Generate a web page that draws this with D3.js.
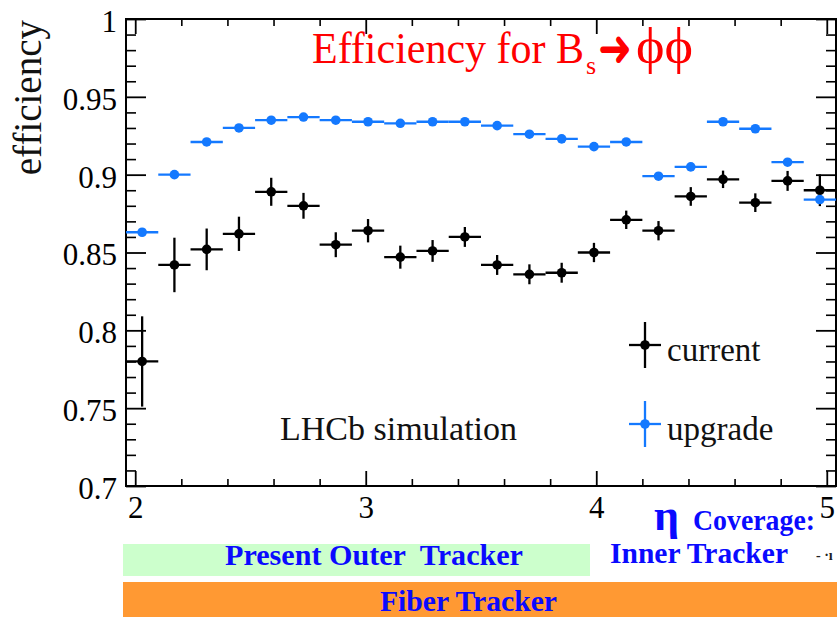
<!DOCTYPE html>
<html>
<head>
<meta charset="utf-8">
<script src="https://cdn.jsdelivr.net/npm/d3@7"></script>
<style>
  html, body { margin: 0; padding: 0; background: #fff; }
  svg { display: block; }
  text { white-space: pre; }
</style>
</head>
<body>
<svg id="chart" width="837" height="617"></svg>
<script>
// Pseudorapidity bin centres (bins 0.14 wide, 1.96 to 5.04)
const etaBins = [2.03, 2.17, 2.31, 2.45, 2.59, 2.73, 2.87, 3.01, 3.15, 3.29, 3.43,
                 3.57, 3.71, 3.85, 3.99, 4.13, 4.27, 4.41, 4.55, 4.69, 4.83, 4.97];
const binHalfWidth = 0.07;

// Efficiency with the current detector
const currentEff = [0.780, 0.842, 0.852, 0.862, 0.889, 0.880, 0.855, 0.864, 0.847, 0.851, 0.860,
                    0.842, 0.836, 0.837, 0.850, 0.871, 0.864, 0.886, 0.897, 0.882, 0.896, 0.890];
const currentErr = [0.029, 0.0175, 0.0134, 0.011, 0.009, 0.0083, 0.008, 0.0075, 0.0074, 0.007, 0.0064,
                    0.0064, 0.0064, 0.0064, 0.0062, 0.0059, 0.0062, 0.006, 0.0056, 0.006, 0.0064, 0.0102];

// Efficiency with the upgraded detector
const upgradeEff = [0.863, 0.900, 0.921, 0.930, 0.935, 0.937, 0.935, 0.934, 0.933, 0.934, 0.934,
                    0.9315, 0.926, 0.923, 0.918, 0.921, 0.899, 0.905, 0.934, 0.9295, 0.908, 0.884];
const upgradeErr = [0.002, 0.002, 0.002, 0.002, 0.002, 0.002, 0.002, 0.002, 0.002, 0.002, 0.002,
                    0.002, 0.002, 0.002, 0.002, 0.002, 0.002, 0.002, 0.002, 0.002, 0.002, 0.002];

const xMajorTicks = [2, 3, 4, 5];
const yMajorTicks = [0.7, 0.75, 0.8, 0.85, 0.9, 0.95, 1];
const yTickLabels = ["0.7", "0.75", "0.8", "0.85", "0.9", "0.95", "1"];
const seriesNames = ["current", "upgrade"];
const seriesColors = ["#000000", "#1479ff"];

const ROOT_FONT = "'Liberation Serif', 'Times New Roman', serif";
const L = 126, R = 836, T = 19, B = 486;

const svg = d3.select("#chart");
svg.append("rect").attr("width", 837).attr("height", 617).attr("fill", "#fff");

const x = d3.scaleLinear().domain([1.96, 5.04]).range([L, R]);
const y = d3.scaleLinear().domain([0.7, 1.0]).range([B, T]);

const xMinor = d3.range(10, 26).filter(i => i % 5 !== 0).map(i => i / 5);
const yMinor = d3.range(70, 101).filter(i => i % 5 !== 0).map(i => i / 100);

function styleAxis(g, width) {
  g.select(".domain").remove();
  g.selectAll(".tick line").attr("stroke", "#000").attr("stroke-width", width);
  g.selectAll(".tick text").attr("fill", "#000")
    .style("font-family", ROOT_FONT).style("font-size", "31px");
}

// Ticks on all four sides, pointing inwards
svg.append("g").attr("transform", `translate(0,${B})`)
  .call(d3.axisBottom(x).tickValues(xMajorTicks).tickSize(-15).tickPadding(10).tickFormat(d3.format("d")))
  .call(g => styleAxis(g, 1.8));
svg.append("g").attr("transform", `translate(0,${B})`)
  .call(d3.axisBottom(x).tickValues(xMinor).tickSize(-7).tickFormat(""))
  .call(g => styleAxis(g, 1.6));
svg.append("g").attr("transform", `translate(0,${T})`)
  .call(d3.axisTop(x).tickValues(xMajorTicks).tickSize(-15).tickFormat(""))
  .call(g => styleAxis(g, 1.8));
svg.append("g").attr("transform", `translate(0,${T})`)
  .call(d3.axisTop(x).tickValues(xMinor).tickSize(-7).tickFormat(""))
  .call(g => styleAxis(g, 1.6));

svg.append("g").attr("transform", `translate(${L},0)`)
  .call(d3.axisLeft(y).tickValues(yMajorTicks).tickSize(-20).tickPadding(9)
    .tickFormat((d, i) => yTickLabels[i]))
  .call(g => styleAxis(g, 1.8))
  .call(g => g.selectAll(".tick text").attr("dy", "0.4em"));
svg.append("g").attr("transform", `translate(${L},0)`)
  .call(d3.axisLeft(y).tickValues(yMinor).tickSize(-10).tickFormat(""))
  .call(g => styleAxis(g, 1.6));
svg.append("g").attr("transform", `translate(${R},0)`)
  .call(d3.axisRight(y).tickValues(yMajorTicks).tickSize(-20).tickFormat(""))
  .call(g => styleAxis(g, 1.8));
svg.append("g").attr("transform", `translate(${R},0)`)
  .call(d3.axisRight(y).tickValues(yMinor).tickSize(-10).tickFormat(""))
  .call(g => styleAxis(g, 1.6));

// Frame
svg.append("rect").attr("x", L).attr("y", T).attr("width", R - L).attr("height", B - T)
  .attr("fill", "none").attr("stroke", "#000").attr("stroke-width", 2);

// Data points with error bars
const series = [
  { name: seriesNames[0], color: seriesColors[0], eff: currentEff, err: currentErr },
  { name: seriesNames[1], color: seriesColors[1], eff: upgradeEff, err: upgradeErr }
];

series.forEach(s => {
  const pts = etaBins.map((eta, i) => ({ eta, v: s.eff[i], e: s.err[i] }));
  const g = svg.append("g").attr("class", "series-" + s.name);
  g.selectAll("line.h").data(pts).join("line").attr("class", "h")
    .attr("x1", d => x(d.eta - binHalfWidth)).attr("x2", d => x(d.eta + binHalfWidth))
    .attr("y1", d => y(d.v)).attr("y2", d => y(d.v))
    .attr("stroke", s.color).attr("stroke-width", 2.3);
  g.selectAll("line.v").data(pts).join("line").attr("class", "v")
    .attr("x1", d => x(d.eta)).attr("x2", d => x(d.eta))
    .attr("y1", d => y(d.v - d.e)).attr("y2", d => y(d.v + d.e))
    .attr("stroke", s.color).attr("stroke-width", 2.3);
  g.selectAll("circle").data(pts).join("circle")
    .attr("cx", d => x(d.eta)).attr("cy", d => y(d.v)).attr("r", 4.8)
    .attr("fill", s.color);
});

// Legend
const legendX = 645, legendRows = [345, 424];
series.forEach((s, i) => {
  const g = svg.append("g").attr("transform", `translate(${legendX},${legendRows[i]})`);
  g.append("line").attr("x1", -16).attr("x2", 16).attr("stroke", s.color).attr("stroke-width", 2.3);
  g.append("line").attr("y1", -23).attr("y2", 23).attr("stroke", s.color).attr("stroke-width", 2.3);
  g.append("circle").attr("r", 4.8).attr("fill", s.color);
  g.append("text").attr("x", 22).attr("y", 16)
    .style("font-family", ROOT_FONT).style("font-size", "33px").attr("fill", "#111")
    .text(s.name);
});

svg.append("text").attr("x", 280).attr("y", 440)
  .style("font-family", ROOT_FONT).style("font-size", "34px").attr("fill", "#111")
  .text("LHCb simulation");

// Axis title
svg.append("text").attr("transform", "translate(41,20) rotate(-90)")
  .attr("text-anchor", "end")
  .style("font-family", ROOT_FONT).style("font-size", "39px").attr("fill", "#111")
  .text("efficiency");

// Title: one text element, pieces as tspans
const title = svg.append("text").attr("x", 312).attr("y", 63)
  .style("font-family", ROOT_FONT).style("font-size", "44px").attr("fill", "#ff0000");
title.append("tspan").attr("textLength", 272).attr("lengthAdjust", "spacingAndGlyphs")
  .text("Efficiency for B");
title.append("tspan").attr("x", 586).attr("y", 74).style("font-size", "26px").text("s");
title.append("tspan").attr("x", 598).attr("y", 66)
  .style("font-family", "'DejaVu Sans', sans-serif").style("font-weight", "bold").style("font-size", "52px")
  .attr("textLength", 34).attr("lengthAdjust", "spacingAndGlyphs").text("➜");
title.append("tspan").attr("x", 636).attr("y", 63).style("font-size", "50px")
  .attr("textLength", 57).attr("lengthAdjust", "spacingAndGlyphs").text("ϕϕ");

// Tracker coverage annotations
const ANN_FONT = "'Liberation Serif', 'Times New Roman', serif";
const annBlue = "#0a0aff";
svg.append("rect").attr("x", 123).attr("y", 544).attr("width", 467).attr("height", 32).attr("fill", "#ccffcc");
svg.append("rect").attr("x", 123).attr("y", 582).attr("width", 714).attr("height", 35).attr("fill", "#ff9933");

function annText(xp, yp, size, str, len) {
  const t = svg.append("text").attr("x", xp).attr("y", yp)
    .style("font-family", ANN_FONT).style("font-size", size + "px").style("font-weight", "bold")
    .attr("fill", annBlue).text(str);
  if (len) t.attr("textLength", len).attr("lengthAdjust", "spacingAndGlyphs");
  return t;
}
annText(225, 565, 30, "Present Outer  Tracker", 298);
annText(380, 611, 30, "Fiber Tracker", 177);
annText(654, 530, 44, "η");
annText(693, 530, 30, "Coverage:", 122);
annText(610, 563, 30, "Inner Tracker", 178);
svg.append("text").attr("x", 816).attr("y", 560)
  .style("font-family", ROOT_FONT).style("font-size", "14px").style("font-weight", "bold")
  .attr("fill", "#222").text("- ·ı");
</script>
</body>
</html>
